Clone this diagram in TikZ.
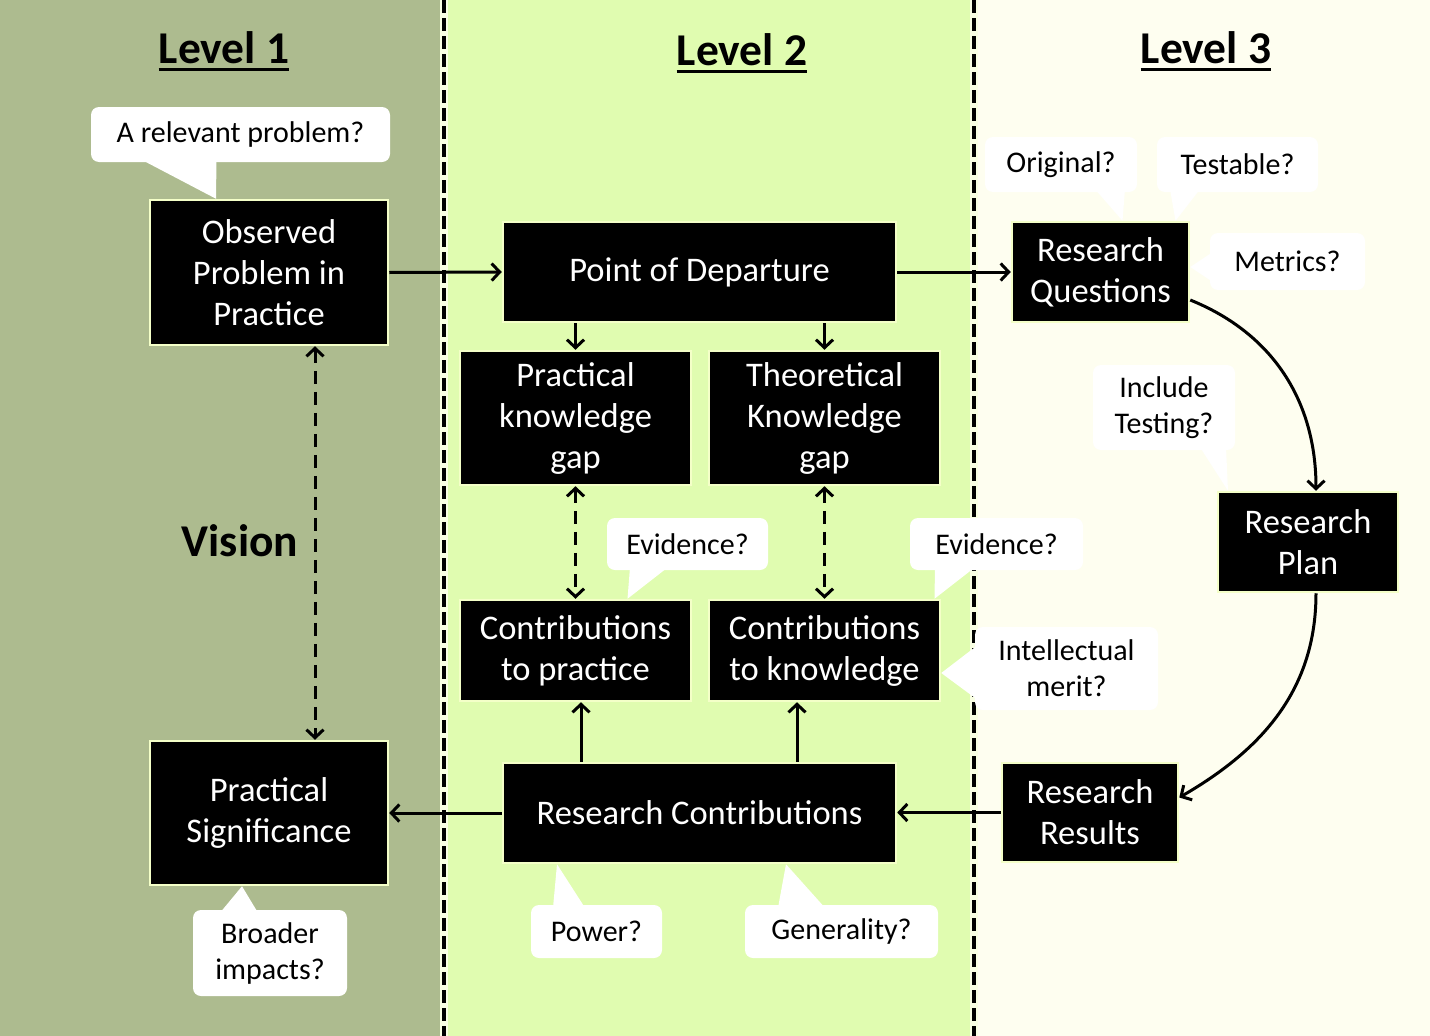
\documentclass[tikz,border=0pt]{standalone}
\usepackage{fontspec}
\setmainfont{Carlito}
\usetikzlibrary{arrows.meta}
\definecolor{lvlA}{HTML}{ADBB8F}
\definecolor{lvlB}{HTML}{E0FCB0}
\definecolor{lvlC}{HTML}{FEFEF0}
\definecolor{glow}{HTML}{F4FFC8}
\newcommand\bxfont{\fontsize{34.5}{41}\selectfont}
\newcommand\clfont{\fontsize{30}{36}\selectfont}
\newcommand\hdfont{\fontsize{45.5}{52}\selectfont\bfseries}
\begin{document}
\begin{tikzpicture}[x=1pt,y=-1pt,
  box/.style={fill=black, draw=glow, line width=2.5pt, text=white, align=center, font=\bxfont, inner sep=0pt},
  call/.style={fill=white, rounded corners=8pt, font=\clfont, align=center, inner sep=0pt},
  tipfill/.style={fill=white},
  conn/.style={line width=3pt, -{Straight Barb[length=8pt,width=17pt]}},
  dconn/.style={line width=3pt, dash pattern=on 13pt off 8pt, {Straight Barb[length=8pt,width=17pt]}-{Straight Barb[length=8pt,width=17pt]}},
  colline/.style={line width=4pt, dash pattern=on 13pt off 5pt},
  colglow/.style={line width=8pt, white!50!glow},
  head/.style={font=\hdfont, inner sep=0pt}
]
\useasboundingbox (0,0) rectangle (1430,1036);
% backgrounds
\fill[lvlA] (0,0) rectangle (443.5,1036);
\fill[lvlB] (443.5,0) rectangle (973.5,1036);
\fill[lvlC] (973.5,0) rectangle (1430,1036);
\draw[colglow] (443.5,0) -- (443.5,1036);
\draw[colglow] (973.5,0) -- (973.5,1036);
\draw[colline] (443.5,0) -- (443.5,1036);
\draw[colline] (973.5,0) -- (973.5,1036);

% headings
\node[head] (l1) at (224,48) {Level 1};
\node[head] (l2) at (742,50) {Level 2};
\node[head] (l3) at (1206,48) {Level 3};
\draw[line width=3pt] ([yshift=-6pt]l1.base west) -- ([yshift=-6pt]l1.base east);
\draw[line width=3pt] ([yshift=-6pt]l2.base west) -- ([yshift=-6pt]l2.base east);
\draw[line width=3pt] ([yshift=-6pt]l3.base west) -- ([yshift=-6pt]l3.base east);
\node[head] (vis) at (240,541) {Vision};

% boxes
\node[box, minimum width=238pt, minimum height=145pt] (obs) at (269,272.5) {Observed\\Problem in\\Practice};
\node[box, minimum width=393pt, minimum height=100pt] (pod) at (699.5,272) {Point of Departure};
\node[box, minimum width=177pt, minimum height=100pt] (rq) at (1100.5,272) {Research\\Questions};
\node[box, minimum width=231pt, minimum height=134pt] (pkg) at (575.5,418) {Practical\\knowledge\\gap};
\node[box, minimum width=231pt, minimum height=134pt] (tkg) at (824.5,418) {Theoretical\\Knowledge\\gap};
\node[box, minimum width=231pt, minimum height=101pt] (ctp) at (575.5,650.5) {Contributions\\to practice};
\node[box, minimum width=231pt, minimum height=101pt] (ctk) at (824.5,650.5) {Contributions\\to knowledge};
\node[box, minimum width=180pt, minimum height=100pt] (plan) at (1308,542) {Research\\Plan};
\node[box, minimum width=238pt, minimum height=144pt] (ps) at (269,813) {Practical\\Significance};
\node[box, minimum width=393pt, minimum height=100pt] (rc) at (699.5,813) {Research Contributions};
\node[box, minimum width=176pt, minimum height=99pt] (rr) at (1090,812.5) {Research\\Results};

% connectors
\draw[conn] (obs.east) -- (pod.west);
\draw[conn] (pod.east) -- (rq.west);
\draw[conn] (pkg.north |- pod.south) -- (pkg.north);
\draw[conn] (tkg.north |- pod.south) -- (tkg.north);
\draw[dconn] (pkg.south) -- (ctp.north);
\draw[dconn] (tkg.south) -- (ctk.north);
\coordinate (rcA) at ([xshift=-118.5pt]rc.north);
\coordinate (rcB) at ([xshift=97.5pt]rc.north);
\draw[conn] (rcA) -- (rcA |- ctp.south);
\draw[conn] (rcB) -- (rcB |- ctk.south);
\draw[conn] (rc.west) -- (ps.east);
\draw[conn] (rr.west) -- (rr.west -| rc.east);
\draw[dconn] ([xshift=46pt]obs.south) -- ([xshift=46pt]ps.north);
\draw[conn] ([yshift=-28pt]rq.east) to[out=-22,in=90] ([xshift=8pt]plan.north);
\draw[conn] ([xshift=8pt]plan.south) to[out=-90,in=30] ([yshift=15pt]rr.east);

% callouts
\node[call, minimum width=299pt, minimum height=55pt] (crel) at (240.5,134.5) {A relevant problem?};
\fill[tipfill] ([xshift=-100pt,yshift=3pt]crel.south) -- ([xshift=-24pt,yshift=3pt]crel.south) -- ([xshift=-53pt]obs.north) -- cycle;

\node[call, minimum width=152pt, minimum height=55pt] (cori) at (1061,164.5) {Original?};
\fill[tipfill] ([xshift=34pt,yshift=3pt]cori.south) -- ([xshift=64pt,yshift=3pt]cori.south) -- ([xshift=22pt]rq.north) -- cycle;

\node[call, minimum width=161pt, minimum height=55pt] (ctest) at (1237.5,164.5) {Testable?};
\fill[tipfill] ([xshift=-67.5pt,yshift=3pt]ctest.south) -- ([xshift=-37.5pt,yshift=3pt]ctest.south) -- ([xshift=75pt]rq.north) -- cycle;

\node[call, minimum width=155pt, minimum height=57pt] (cmet) at (1287.5,261.5) {Metrics?};
\fill[tipfill] ([xshift=3pt,yshift=9.5pt]cmet.west) -- ([xshift=3pt,yshift=-20.5pt]cmet.west) -- ([yshift=5pt]rq.east) -- cycle;

\node[call, minimum width=142pt, minimum height=85pt] (cinc) at (1164,407.5) {Include\\Testing?};
\fill[tipfill] ([xshift=36pt,yshift=3pt]cinc.south) -- ([xshift=62pt,yshift=3pt]cinc.south) -- ([xshift=-80pt]plan.north) -- cycle;

\node[call, minimum width=161pt, minimum height=52pt] (cev1) at (687.5,544) {Evidence?};
\fill[tipfill] ([xshift=-57.5pt,yshift=3pt]cev1.south) -- ([xshift=-19.5pt,yshift=3pt]cev1.south) -- ([xshift=52pt]ctp.north) -- cycle;

\node[call, minimum width=173pt, minimum height=52pt] (cev2) at (996.5,544) {Evidence?};
\fill[tipfill] ([xshift=-61.5pt,yshift=3pt]cev2.south) -- ([xshift=-21.5pt,yshift=3pt]cev2.south) -- ([xshift=110pt]ctk.north) -- cycle;

\node[call, minimum width=183pt, minimum height=83pt] (cint) at (1066.5,668.5) {Intellectual\\merit?};
\fill[tipfill] ([xshift=3pt,yshift=23.5pt]cint.west) -- ([xshift=3pt,yshift=-31.5pt]cint.west) -- ([yshift=-22.5pt]ctk.east) -- cycle;

\node[call, minimum width=131pt, minimum height=53pt] (cpow) at (596.5,931.5) {Power?};
\fill[tipfill] ([xshift=-43.5pt,yshift=-3pt]cpow.north) -- ([xshift=-11.5pt,yshift=-3pt]cpow.north) -- ([xshift=-142.5pt]rc.south) -- cycle;

\node[call, minimum width=193pt, minimum height=53pt] (cgen) at (841.5,931.5) {Generality?};
\fill[tipfill] ([xshift=-63.5pt,yshift=-3pt]cgen.north) -- ([xshift=-16.5pt,yshift=-3pt]cgen.north) -- ([xshift=86.5pt]rc.south) -- cycle;

\node[call, minimum width=154pt, minimum height=86pt] (cbro) at (270,953) {Broader\\impacts?};
\fill[tipfill] ([xshift=-50pt,yshift=-3pt]cbro.north) -- ([xshift=-12pt,yshift=-3pt]cbro.north) -- ([xshift=-27pt]ps.south) -- cycle;
\end{tikzpicture}
\end{document}
